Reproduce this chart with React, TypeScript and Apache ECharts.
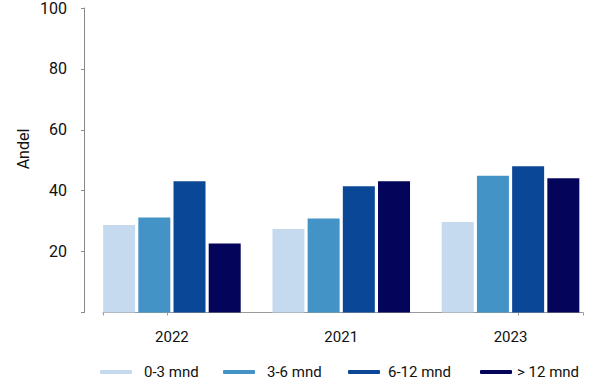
import React, { useEffect, useRef } from "react";
import * as echarts from "echarts";

const years = ["2022", "2021", "2023"];
const seriesNames = ["0-3 mnd", "3-6 mnd", "6-12 mnd", "> 12 mnd"];
const s03 = [28.7, 27.4, 29.7];
const s36 = [31.2, 30.9, 44.9];
const s612 = [43.1, 41.5, 48.0];
const s12 = [22.7, 43.1, 44.1];
const yTicks = [0, 20, 40, 60, 80, 100];

const colors = ["#c6daef", "#4393c7", "#0a4796", "#03045a"];
const FONT = "Roboto";

export default function App() {
  const ref = useRef<HTMLDivElement>(null);
  useEffect(() => {
    document.body.style.margin = "0";
    if (!ref.current) return;
    const chart = echarts.init(ref.current, undefined, { renderer: "svg" });
    const allSeries = [s03, s36, s612, s12];
    const legendLefts = [100, 223, 348, 480];
    const legendPads = [7, 7, 3, 0];
    chart.setOption({
      animation: false,
      backgroundColor: "#ffffff",
      textStyle: { fontFamily: FONT },
      grid: { left: 103, right: 7, top: 7.5, bottom: 74.5 },
      legend: seriesNames.map((n, i) => ({
        data: [n],
        left: legendLefts[i],
        top: 363,
        padding: 0,
        icon: "roundRect",
        itemWidth: 32,
        itemHeight: 4,
        selectedMode: false,
        textStyle: {
          fontFamily: FONT,
          fontSize: 15,
          color: "#111",
          lineHeight: 18,
          padding: [0, 0, 0, legendPads[i]],
        },
      })),
      xAxis: {
        type: "value",
        min: -0.407,
        max: 2.428,
        splitLine: { show: false },
        axisLine: { show: true, onZero: false, lineStyle: { color: "#9a9a9a", width: 1 } },
        axisTick: {
          show: true,
          length: 3,
          customValues: [-0.407, -0.029, 2.044, 2.428],
          lineStyle: { color: "#9a9a9a" },
        },
        axisLabel: {
          customValues: years.map((_, i) => i),
          formatter: (v: number) => years[Math.round(v)] ?? "",
          fontFamily: FONT,
          fontSize: 15,
          lineHeight: 15,
          margin: 17,
          color: "#111",
        },
      },
      yAxis: {
        type: "value",
        min: yTicks[0],
        max: yTicks[yTicks.length - 1],
        interval: 20,
        offset: 19,
        splitLine: { show: false },
        axisLine: { show: true, onZero: false, lineStyle: { color: "#8a8a8a", width: 1 } },
        axisTick: { show: true, length: 3, lineStyle: { color: "#8a8a8a" } },
        axisLabel: {
          formatter: (v: number) => (v === 0 ? "" : String(v)),
          fontFamily: FONT,
          fontSize: 16,
          margin: 17,
          color: "#111",
          padding: [8, 0, 0, 0],
        },
      },
      graphic: [
        {
          type: "text",
          x: 23,
          y: 149,
          rotation: Math.PI / 2,
          style: {
            text: "Andel",
            fontFamily: FONT,
            fontSize: 16,
            fill: "#111",
            align: "center",
            verticalAlign: "middle",
          },
        },
      ],
      series: seriesNames.map((n, i) => ({
        name: n,
        type: "bar",
        barWidth: 32,
        barGap: "10%",
        itemStyle: { color: colors[i] },
        data: allSeries[i].map((v, j) => [j, v]),
      })),
    });
    return () => chart.dispose();
  }, []);
  return (
    <div
      ref={ref}
      style={{ width: 590, height: 387, position: "absolute", left: 0, top: 0 }}
    />
  );
}
